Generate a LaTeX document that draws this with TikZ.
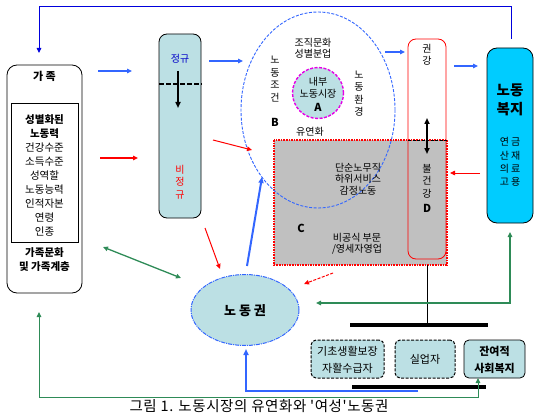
\documentclass[tikz,border=0pt]{standalone}
\usepackage{fontspec}
\setmainfont{Noto Sans CJK KR}
\newfontfamily\capfont[LetterSpace=4]{Noto Sans CJK KR}
\usetikzlibrary{arrows.meta,shapes.geometric}
\definecolor{lblue}{RGB}{188,224,228}
\definecolor{cyanbox}{RGB}{0,204,255}
\definecolor{gbox}{RGB}{192,192,192}
\definecolor{ablue}{RGB}{51,102,255}
\definecolor{dblue}{RGB}{0,0,220}
\definecolor{agreen}{RGB}{46,139,87}
\definecolor{ared}{RGB}{255,0,0}
\definecolor{amag}{RGB}{230,0,230}
\definecolor{tblue}{RGB}{0,0,200}
\begin{document}
\begin{tikzpicture}[x=1pt,y=-1pt,
  tip/.style={-{Triangle[length=5pt,width=4.5pt]}},
  dtip/.style={{Triangle[length=5pt,width=4.5pt]}-{Triangle[length=5pt,width=4.5pt]}},
  box/.style={inner sep=0pt,outer sep=0pt},
  t/.style={inner sep=0pt,outer sep=0pt,font=\fontsize{10}{12}\selectfont},
  tb/.style={inner sep=0pt,outer sep=0pt,font=\fontsize{10.5}{12}\selectfont\bfseries},
  ft/.style={inner sep=0pt,outer sep=0pt,font=\fontsize{10.5}{12}\selectfont},
  vt/.style={inner sep=0pt,outer sep=0pt,align=center,font=\fontsize{10}{12.5}\selectfont},
  ctext/.style={inner sep=0pt,outer sep=0pt,align=center,font=\fontsize{10}{11.5}\selectfont},
  smallbox/.style={box,draw=black,fill=lblue,line width=1pt,rounded corners=5pt,minimum height=38pt,dash pattern=on 3pt off 1.5pt},
  bar/.style={line width=4pt,black},
  gline/.style={agreen,line width=1pt},
  bline/.style={ablue,line width=1.2pt},
  rline/.style={ared,line width=1pt}]
\useasboundingbox (0,0) rectangle (534,414);

% ---------- family box ----------
\node[box,draw=black,line width=0.8pt,rounded corners=10pt,minimum width=75pt,minimum height=228pt] (fam) at (44.5,179) {};
\node[box,draw=black,line width=0.8pt,minimum width=67pt,minimum height=139pt] (faminner) at (44.5,172.5) {};
\node[tb,font=\fontsize{11}{12}\selectfont\bfseries] (famtitle) at (44.5,76) {가 족};
\node[tb] (f1) at (44.5,120) {성별화된};
\node[tb] (f2) at (44.5,134) {노동력};
\node[ft] (f3) at (44.5,148) {건강수준};
\node[ft] (f4) at (44.5,162) {소득수준};
\node[ft] (f5) at (44.5,176) {성역할};
\node[ft] (f6) at (44.5,190) {노동능력};
\node[ft] (f7) at (44.5,204) {인적자본};
\node[ft] (f8) at (44.5,218) {연령};
\node[ft] (f9) at (44.5,232) {인종};
\node[tb] (f10) at (44.5,253) {가족문화};
\node[tb] (f11) at (44.5,267) {및 가족계층};

% ---------- regular / irregular box ----------
\node[box,draw=black,line width=0.8pt,fill=lblue,rounded corners=8pt,minimum width=42pt,minimum height=184pt] (reg) at (180,126) {};
\coordinate (regdl) at (159,84);
\coordinate (regdr) at (202,84);
\draw[black,line width=1.3pt,dash pattern=on 5pt off 2pt] (regdl) -- (regdr);
\node[t,text=tblue] (jg) at (180,59) {정규};
\coordinate (rega) at (178,71);
\coordinate (regb) at (178,108);
\draw[black,line width=1.5pt,-{Triangle[length=6pt,width=5pt]}] (rega) -- (regb);
\node[vt,text=ared] (bjg) at (180,182) {비\\정\\규};

% ---------- grey box C ----------
\node[box,fill=gbox,minimum width=173pt,minimum height=125pt] (cbox) at (360.5,202.5) {};
\draw[ared,line width=1.8pt,dash pattern=on 1.6pt off 1pt] (cbox.north west) rectangle (cbox.south east);

% ---------- big ellipse B ----------
\node[box,ellipse,draw=ablue,line width=0.9pt,dash pattern=on 3pt off 1.5pt,minimum width=154pt,minimum height=196pt] (ellB) at (318,110) {};
\node[box,circle,draw=amag,fill=lblue,line width=1.4pt,dash pattern=on 3pt off 1.5pt,minimum size=51pt] (circA) at (318,93) {};
\node[t] (inner1) at (318,82) {내부};
\node[t] (inner2) at (318,94) {노동시장};
\node[tb,font=\fontsize{11}{12}\selectfont\bfseries] (la) at (318,107) {A};
\node[t] (org1) at (313,43) {조직문화};
\node[t] (org2) at (313,54) {성별분업};
\node[vt] (cond) at (275,79) {노\\동\\조\\건};
\node[vt] (env) at (359,93.5) {노\\동\\환\\경};
\node[tb,font=\fontsize{11}{12}\selectfont\bfseries] (lb) at (275,122) {B};
\node[t] (flex) at (310,132) {유연화};

% ---------- red box (health) ----------
\node[box,draw=ared,line width=0.8pt,rounded corners=8pt,minimum width=38pt,minimum height=220pt] (rbox) at (427,149) {};
\coordinate (rdl) at (408,140);
\coordinate (rdr) at (447,140);
\draw[black,line width=1pt,dash pattern=on 3pt off 1.5pt] (rdl) -- (rdr);
\node[vt] (health) at (427,55) {권\\강};
\coordinate (ha) at (427,118);
\coordinate (hb) at (427,154);
\draw[black,line width=1.5pt,{Triangle[length=6pt,width=5pt]}-{Triangle[length=6pt,width=5pt]}] (ha) -- (hb);
\node[vt] (unhealth) at (427,181) {불\\건\\강};
\node[tb,font=\fontsize{11}{12}\selectfont\bfseries] (ld) at (427,208) {D};

% ---------- C texts ----------
\node[ctext] (c1) at (358,179) {단순노무직\\하위서비스\\감정노동};
\node[tb,font=\fontsize{11}{12}\selectfont\bfseries] (lc) at (301,228) {C};
\node[ctext] (c2) at (357,244) {비공식 부문\\/영세자영업};

% ---------- labour welfare ----------
\node[box,draw=black,line width=0.8pt,fill=cyanbox,rounded corners=10pt,minimum width=46pt,minimum height=175pt] (welfare) at (510,135.5) {};
\node[inner sep=0pt,align=center,font=\fontsize{14.5}{19}\selectfont\bfseries] (wtitle) at (510,100) {노동\\복지};
\node[inner sep=0pt,align=center,font=\fontsize{10}{13.3}\selectfont] (wlist) at (510,162) {연\hspace{2pt}금\\산\hspace{2pt}재\\의\hspace{2pt}료\\고\hspace{2pt}용};

% ---------- labour rights ----------
\node[box,ellipse,draw=ablue,fill=lblue,line width=1pt,dash pattern=on 4pt off 1pt on 1pt off 1pt,minimum width=108pt,minimum height=71pt] (rights) at (245,310) {};
\node[inner sep=0pt,font=\fontsize{13}{14}\selectfont\bfseries] (rtext) at (245,311) {노 동 권};

% ---------- bottom boxes ----------
\node[smallbox,minimum width=73pt] (basic) at (347.5,359) {};
\node[ctext,font=\fontsize{11}{17}\selectfont] (basict) at (347.5,359.5) {기초생활보장\\자활수급자};
\node[smallbox,minimum width=60pt] (unemp) at (425,359) {};
\node[ctext,font=\fontsize{11}{12}\selectfont] (unempt) at (425,359) {실업자};
\node[smallbox,solid,line width=0.8pt,minimum width=61pt] (resid) at (494.5,359) {};
\node[ctext,font=\fontsize{11}{17}\selectfont\bfseries] (residt) at (494.5,359.5) {잔여적\\사회복지};

\coordinate (bar1l) at (350,325);
\coordinate (bar1r) at (488,325);
\draw[bar] (bar1l) -- (bar1r);
\coordinate (bar2l) at (352,387);
\coordinate (bar2r) at (486,387);
\draw[bar] (bar2l) -- (bar2r);
\coordinate (vbar) at (427,325);
\draw[black,line width=0.8pt] (cbox.south -| vbar) -- (vbar);

% ---------- connectors ----------
% top blue line
\coordinate (wtop) at (511,39);
\coordinate (tl) at (39,6);
\coordinate (famin) at (39,53);
\draw[dblue,line width=0.9pt,tip] (wtop) |- (tl) -- (famin);
% blue arrows
\coordinate (b1s) at (98,71);  \coordinate (b1e) at (132,71);
\draw[bline,tip] (b1s) -- (b1e);
\coordinate (b2s) at (209,61); \coordinate (b2e) at (243,61);
\draw[bline,tip] (b2s) -- (b2e);
\coordinate (b3s) at (385,52); \coordinate (b3e) at (405,52);
\draw[bline,tip] (b3s) -- (b3e);
\coordinate (b4s) at (454,66); \coordinate (b4e) at (478,66);
\draw[bline,tip] (b4s) -- (b4e);
\coordinate (b5s) at (247,266); \coordinate (b5e) at (262,177);
\draw[ablue,line width=2pt,-{Triangle[length=6pt,width=5pt]}] (b5s) -- (b5e);
\coordinate (b6s) at (418,391); \coordinate (b6c) at (246,391); \coordinate (b6e) at (246,349);
\draw[ablue,line width=2pt,-{Triangle[length=6pt,width=5pt]}] (b6s) -- (b6c) -- (b6e);
% red arrows
\coordinate (r1s) at (100,158); \coordinate (r1e) at (138,158);
\draw[ared,line width=1.4pt,tip] (r1s) -- (r1e);
\coordinate (r2s) at (213,140); \coordinate (r2e) at (252,150);
\draw[rline,tip] (r2s) -- (r2e);
\coordinate (r3s) at (205,228); \coordinate (r3e) at (220,269);
\draw[rline,tip] (r3s) -- (r3e);
\coordinate (r4s) at (333,273); \coordinate (r4e) at (304,284);
\draw[rline,dash pattern=on 3pt off 1.5pt,tip] (r4s) -- (r4e);
\coordinate (r5s) at (480,173); \coordinate (r5e) at (450,173);
\draw[ared,line width=0.8pt,tip] (r5s) -- (r5e);
% green arrows
\coordinate (g1s) at (103,247); \coordinate (g1e) at (181,278);
\draw[gline,line width=1.3pt,dtip] (g1s) -- (g1e);
\coordinate (g2s) at (316,303); \coordinate (g2c) at (510,303); \coordinate (g2e) at (510,232);
\draw[gline,line width=1.3pt,dtip] (g2s) -- (g2c) -- (g2e);
\coordinate (g3s) at (39,312); \coordinate (g3a) at (39,397); \coordinate (g3b) at (478,397); \coordinate (g3e) at (478,378);
\draw[gline,dtip] (g3s) -- (g3a) -- (g3b) -- (g3e);

% ---------- caption ----------
\node[inner sep=0pt,font=\capfont\fontsize{14.5}{15}\selectfont] (caption) at (259,406.5) {그림 1. 노동시장의 유연화와 '여성'노동권};
\end{tikzpicture}
\end{document}
